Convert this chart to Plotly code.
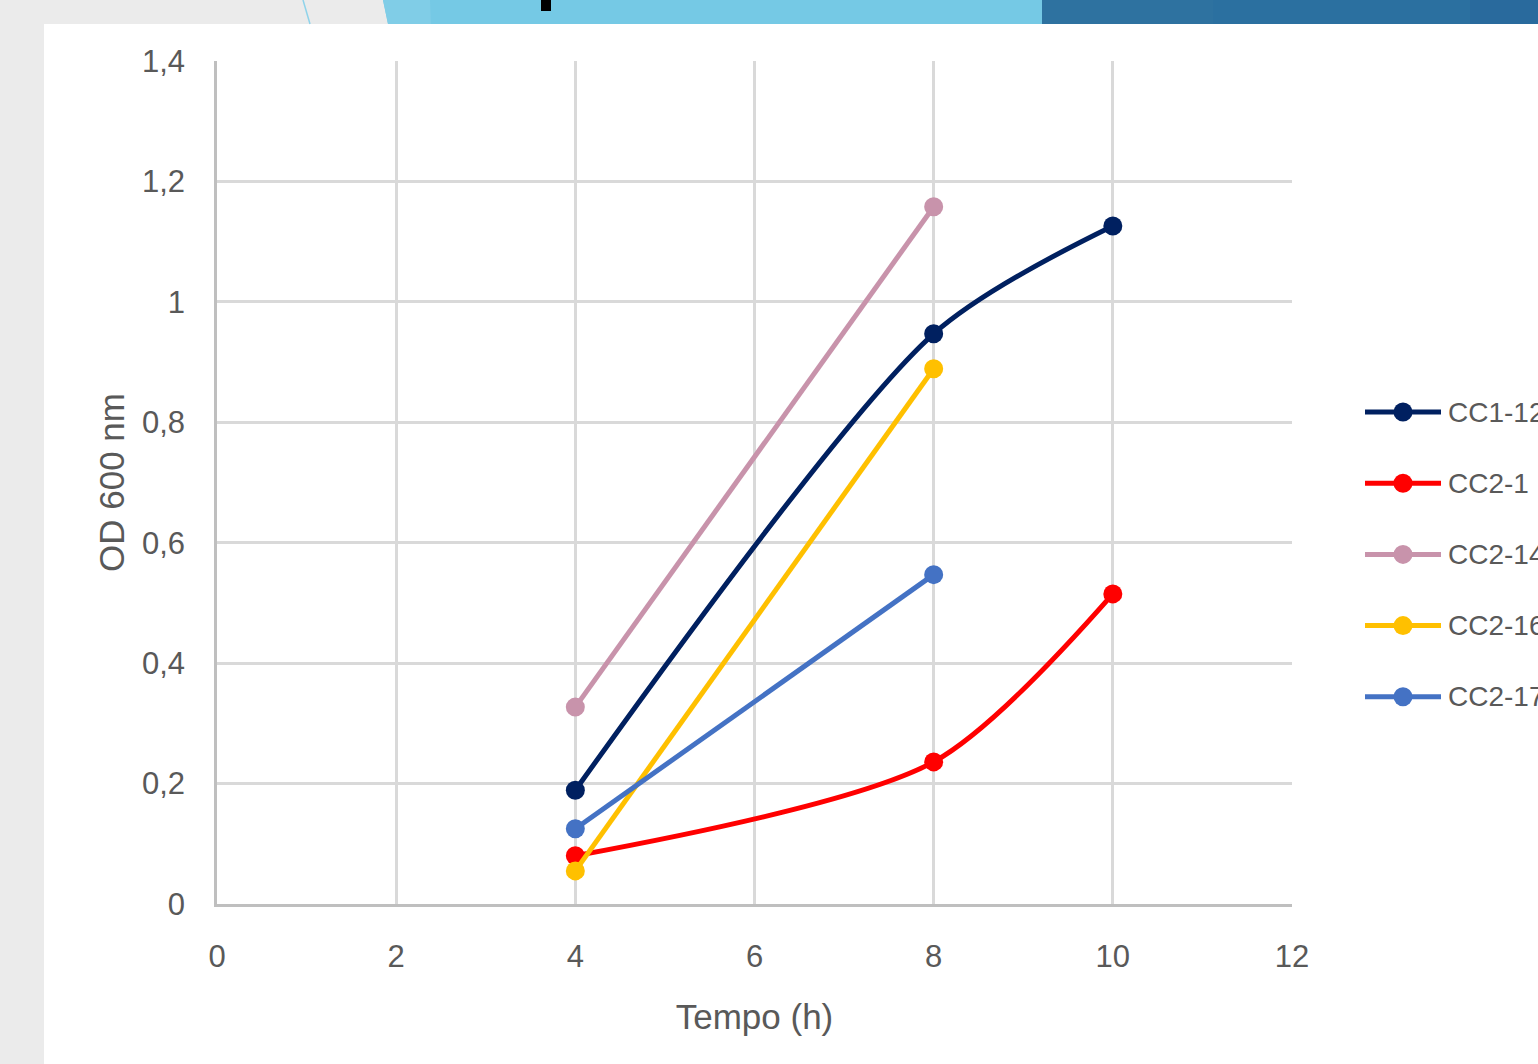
import plotly.graph_objects as go

# ---- data ----
series_names = ["CC1-12", "CC2-1", "CC2-14", "CC2-16", "CC2-17"]
series_x = [
    [4, 8, 10],
    [4, 8, 10],
    [4, 8],
    [4, 8],
    [4, 8],
]
series_y = [
    [0.189, 0.947, 1.126],
    [0.080, 0.236, 0.515],
    [0.327, 1.158],
    [0.055, 0.889],
    [0.125, 0.547],
]
series_colors = ["#002060", "#FF0000", "#C893AB", "#FFC000", "#4472C4"]
x_ticks = [0, 2, 4, 6, 8, 10, 12]
y_ticks = [0, 0.2, 0.4, 0.6, 0.8, 1.0, 1.2, 1.4]
y_ticklabels = ["0", "0,2", "0,4", "0,6", "0,8", "1", "1,2", "1,4"]

W, H = 1538, 1064
L, R, T, B = 217, 1292, 61, 904  # plot area in pixels

def px(x):
    return (x - L) / (R - L)

def py(y):
    return (B - y) / (B - T)

FONT = "Liberation Sans"
TXT = "#595959"

fig = go.Figure()
for name, xs, ys, c in zip(series_names, series_x, series_y, series_colors):
    fig.add_trace(go.Scatter(
        x=xs, y=ys, name=name, mode="lines+markers",
        line=dict(color=c, width=5, shape="spline", smoothing=0.8),
        marker=dict(color=c, size=19),
        showlegend=False,
    ))

shapes = []
# slide background pieces
shapes.append(dict(type="rect", xref="paper", yref="paper", x0=px(44), x1=px(W), y0=py(24), y1=py(H),
                   fillcolor="white", line=dict(width=0), layer="below"))
shapes.append(dict(type="path", xref="paper", yref="paper",
                   path=f"M {px(383)},{py(0)} L {px(1042)},{py(0)} L {px(1043)},{py(24)} L {px(388)},{py(24)} Z",
                   fillcolor="#75C9E5", line=dict(width=0), layer="below"))
shapes.append(dict(type="path", xref="paper", yref="paper",
                   path=f"M {px(383)},{py(0)} L {px(430)},{py(0)} L {px(431)},{py(24)} L {px(388)},{py(24)} Z",
                   fillcolor="#80CDE7", line=dict(width=0), layer="below"))
shapes.append(dict(type="rect", xref="paper", yref="paper", x0=px(1042), x1=px(1213), y0=py(0), y1=py(24),
                   fillcolor="#2E72A0", line=dict(width=0), layer="below"))
shapes.append(dict(type="rect", xref="paper", yref="paper", x0=px(1213), x1=px(1470), y0=py(0), y1=py(24),
                   fillcolor="#2B70A0", line=dict(width=0), layer="below"))
shapes.append(dict(type="rect", xref="paper", yref="paper", x0=px(1470), x1=px(W), y0=py(0), y1=py(24),
                   fillcolor="#296A9D", line=dict(width=0), layer="below"))
shapes.append(dict(type="line", xref="paper", yref="paper", x0=px(303), x1=px(310), y0=py(0), y1=py(24),
                   line=dict(color="#8FD3EA", width=1.5), layer="below"))
shapes.append(dict(type="rect", xref="paper", yref="paper", x0=px(541), x1=px(551), y0=py(0), y1=py(11),
                   fillcolor="black", line=dict(width=0), layer="below"))

# manual legend
annotations = []
leg_y0, leg_dy = 412, 71.2
for i, (name, c) in enumerate(zip(series_names, series_colors)):
    yy = leg_y0 + i * leg_dy
    shapes.append(dict(type="line", xref="paper", yref="paper", x0=px(1365), x1=px(1441), y0=py(yy), y1=py(yy),
                       line=dict(color=c, width=5)))
    shapes.append(dict(type="circle", xref="paper", yref="paper", x0=px(1393.5), x1=px(1412.5),
                       y0=py(yy + 9.5), y1=py(yy - 9.5), fillcolor=c, line=dict(width=0)))
    annotations.append(dict(xref="paper", yref="paper", x=px(1446), y=py(yy), text=name,
                            showarrow=False, xanchor="left", yanchor="middle",
                            font=dict(family=FONT, size=28, color=TXT)))

fig.update_layout(
    width=W, height=H,
    margin=dict(l=L, r=W - R, t=T, b=H - B, pad=0),
    paper_bgcolor="#EBEBEB", plot_bgcolor="white",
    shapes=shapes, annotations=annotations,
    showlegend=False,
    font=dict(family=FONT, size=31, color=TXT),
)
fig.update_xaxes(
    range=[0, 12], tickvals=x_ticks, ticktext=[str(v) for v in x_ticks],
    showgrid=True, gridcolor="#D9D9D9", gridwidth=2.5,
    showline=True, linecolor="#BFBFBF", linewidth=2.5, mirror=False,
    zeroline=False, ticks="outside", ticklen=23, tickcolor="rgba(0,0,0,0)",
    title=dict(text="Tempo (h)", font=dict(family=FONT, size=35, color=TXT), standoff=32),
    tickfont=dict(family=FONT, size=31, color=TXT),
)
fig.update_yaxes(
    range=[0, 1.4], tickvals=y_ticks, ticktext=y_ticklabels,
    showgrid=True, gridcolor="#D9D9D9", gridwidth=2.5,
    showline=True, linecolor="#BFBFBF", linewidth=2.5,
    zeroline=False, ticks="outside", ticklen=23, tickcolor="rgba(0,0,0,0)",
    title=dict(text="OD 600 nm", font=dict(family=FONT, size=35, color=TXT), standoff=7),
    tickfont=dict(family=FONT, size=31, color=TXT),
)

fig.write_html("out.html", config={"displayModeBar": False},
               post_script="document.body.style.margin='0';")
